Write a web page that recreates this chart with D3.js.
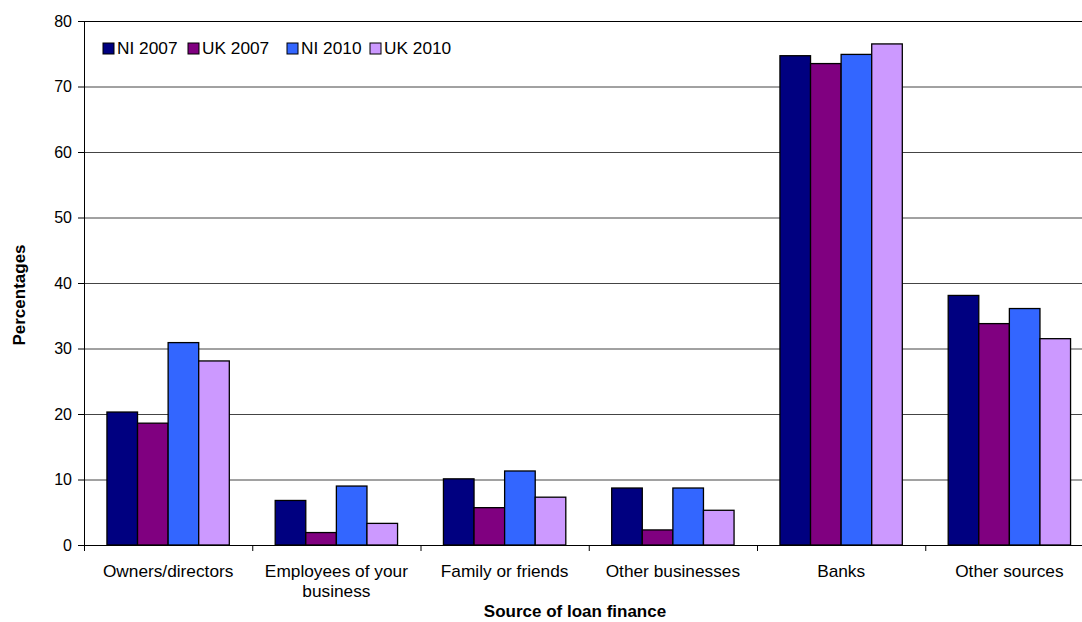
<!DOCTYPE html>
<html>
<head>
<meta charset="utf-8">
<script src="https://cdn.jsdelivr.net/npm/d3@7"></script>
<style>
  html, body { margin: 0; padding: 0; background: #fff; }
  svg { display: block; font-family: "Liberation Sans", Arial, sans-serif; }
</style>
</head>
<body>
<svg id="chart" width="1082" height="622"></svg>
<script>
// Sources of loan finance, percentage of businesses
const categories = [
  ["Owners/directors"],
  ["Employees of your", "business"],
  ["Family or friends"],
  ["Other businesses"],
  ["Banks"],
  ["Other sources"]
];
const seriesNames = ["NI 2007", "UK 2007", "NI 2010", "UK 2010"];
const ni2007 = [20.3, 6.8, 10.1, 8.7, 74.7, 38.1];
const uk2007 = [18.6, 1.9, 5.7, 2.3, 73.5, 33.8];
const ni2010 = [30.9, 9.0, 11.3, 8.7, 74.9, 36.1];
const uk2010 = [28.1, 3.3, 7.3, 5.3, 76.5, 31.5];
const yTicks = [0, 10, 20, 30, 40, 50, 60, 70, 80];
const colors = ["#000080", "#800080", "#3366FF", "#CC99FF"];

const values = [ni2007, uk2007, ni2010, uk2010];
const svg = d3.select("#chart");

const plotLeft = 84, plotRight = 1093.5, plotTop = 21, plotBottom = 545;
const wide = 1.08; // slight horizontal stretch of the label type

const x0 = d3.scaleBand()
  .domain(d3.range(categories.length))
  .range([plotLeft, plotRight])
  .paddingInner(0).paddingOuter(0);

// Bars fill 4/(4+1.5) of each category band (150% gap)
const groupW = x0.bandwidth() * 4 / 5.5;
const x1 = d3.scaleBand()
  .domain(d3.range(seriesNames.length))
  .range([0, groupW]);

const y = d3.scaleLinear().domain([0, 80]).range([plotBottom, plotTop]);

// Horizontal gridlines
svg.append("g")
  .selectAll("line")
  .data(yTicks.filter(t => t > 0))
  .join("line")
  .attr("x1", plotLeft).attr("x2", plotRight)
  .attr("y1", d => y(d) + 0.5).attr("y2", d => y(d) + 0.5)
  .attr("stroke", d => d === 80 ? "#000" : "#444")
  .attr("stroke-width", 1);

// Bars
const groups = svg.append("g")
  .selectAll("g")
  .data(categories.map((c, i) => i))
  .join("g")
  .attr("transform", i => `translate(${x0(i) + (x0.bandwidth() - groupW) / 2},0)`);

groups.selectAll("rect")
  .data(i => values.map((s, k) => ({ k, v: s[i] })))
  .join("rect")
  .attr("x", d => x1(d.k))
  .attr("width", x1.bandwidth())
  .attr("y", d => y(d.v))
  .attr("height", d => y(0) - y(d.v))
  .attr("fill", d => colors[d.k])
  .attr("stroke", "#000")
  .attr("stroke-width", 1.3);

// Y axis
const yAxis = svg.append("g")
  .attr("transform", `translate(${plotLeft},0)`)
  .call(d3.axisLeft(y).tickValues(yTicks).tickSize(6).tickPadding(6).tickFormat(d3.format("d")));
yAxis.select(".domain").attr("stroke", "#000").attr("d", `M0.5,${plotTop}V${plotBottom}`);
yAxis.selectAll(".tick line").attr("stroke", "#000");
yAxis.selectAll("text").attr("font-size", 16).attr("fill", "#000")
  .attr("font-family", "Liberation Sans, Arial, sans-serif");

// X axis
const xAxis = svg.append("g")
  .attr("transform", `translate(0,${plotBottom})`);
xAxis.append("line")
  .attr("x1", plotLeft).attr("x2", plotRight)
  .attr("y1", 0.5).attr("y2", 0.5)
  .attr("stroke", "#000");
xAxis.selectAll("line.tick")
  .data(d3.range(categories.length + 1))
  .join("line")
  .attr("class", "tick")
  .attr("x1", i => (i < categories.length ? x0(i) : plotRight) + 0.5)
  .attr("x2", i => (i < categories.length ? x0(i) : plotRight) + 0.5)
  .attr("y1", 0).attr("y2", 6)
  .attr("stroke", "#000");

const labels = xAxis.selectAll("g.cat")
  .data(categories)
  .join("g")
  .attr("class", "cat")
  .attr("transform", (d, i) => `translate(${x0(i) + x0.bandwidth() / 2},0) scale(${wide},1)`)
  .append("text")
  .attr("text-anchor", "middle")
  .attr("font-size", 16)
  .attr("fill", "#000");
labels.each(function (lines) {
  const t = d3.select(this);
  lines.forEach((ln, j) => {
    t.append("tspan")
      .attr("x", 0)
      .attr("y", 32 + j * 20)
      .text(ln);
  });
});

// Axis titles
svg.append("text")
  .attr("x", 575).attr("y", 617)
  .attr("text-anchor", "middle")
  .attr("font-size", 17).attr("font-weight", "bold")
  .text("Source of loan finance");

svg.append("text")
  .attr("transform", "translate(25,295) rotate(-90)")
  .attr("text-anchor", "middle")
  .attr("font-size", 17).attr("font-weight", "bold")
  .text("Percentages");

// Legend
const legendX = [103, 188, 287, 370];
const legend = svg.append("g")
  .selectAll("g")
  .data(seriesNames)
  .join("g")
  .attr("transform", (d, i) => `translate(${legendX[i]},43)`);
legend.append("rect")
  .attr("width", 11).attr("height", 11)
  .attr("fill", (d, i) => colors[i])
  .attr("stroke", "#000").attr("stroke-width", 1);
legend.append("text")
  .attr("transform", `translate(14,11) scale(${wide},1)`)
  .attr("font-size", 16)
  .text(d => d);
</script>
</body>
</html>
